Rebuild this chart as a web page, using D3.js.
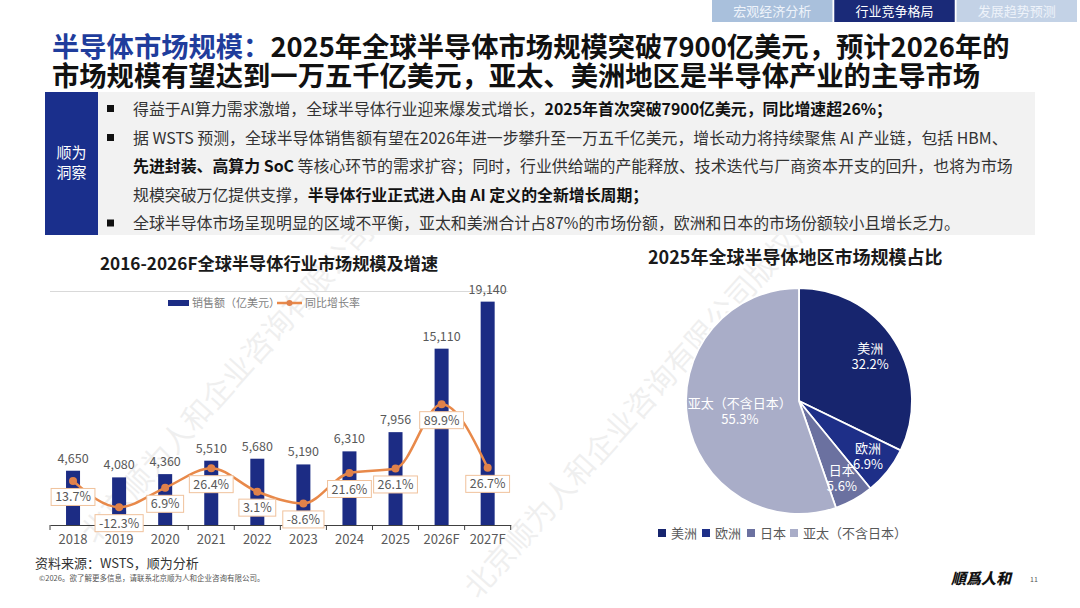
<!DOCTYPE html>
<html><head><meta charset="utf-8">
<script src="https://cdn.jsdelivr.net/npm/d3@7"></script>
<style>
body{margin:0;background:#fff;}
svg{display:block;font-family:"Noto Sans CJK SC","Noto Sans",sans-serif;}
</style></head>
<body><svg id="c" width="1080" height="608"></svg>
<script>
// ---- data ----
const years = ["2018","2019","2020","2021","2022","2023","2024","2025","2026F","2027F"];
const sales = [4650,4080,4360,5510,5680,5190,6310,7956,15110,19140];
const growth = [13.7,-12.3,6.9,26.4,3.1,-8.6,21.6,26.1,89.9,26.7];
const regions = ["美洲","欧洲","日本","亚太（不含日本）"];
const shares = [32.2,6.9,5.6,55.3];
const tabs = ["宏观经济分析","行业竞争格局","发展趋势预测"];

const svg = d3.select("#c");
const F = '"Noto Sans CJK SC","Noto Sans",sans-serif';

// watermarks
[[95,545],[478,600]].forEach(([x,y])=>{
  svg.append("text").attr("transform",`translate(${x},${y}) rotate(-48)`)
    .attr("font-size",30).attr("fill","#000").attr("opacity",0.06)
    .text("北京顺为人和企业咨询有限公司版权所有");
});

// tabs
const tabX = d3.scaleBand().domain(tabs).range([712,1077]).paddingInner(0.015);
const tabFill = ["#a9c0dc","#1a2a78","#c3d2e6"];
tabs.forEach((t,i)=>{
  svg.append("rect").attr("x",tabX(t)).attr("y",0).attr("width",tabX.bandwidth()).attr("height",22).attr("fill",tabFill[i]);
  svg.append("text").attr("x",tabX(t)+tabX.bandwidth()/2).attr("y",16).attr("text-anchor","middle")
    .attr("font-size",13).attr("fill",i===1?"#fff":"#eef3fa").text(t);
});

// title (one text element, two lines)
const t1 = svg.append("text").attr("x",52).attr("y",57).attr("font-size",27.3).attr("font-weight","bold").attr("fill","#111");
t1.append("tspan").attr("fill","#1f3d9c").text("半导体市场规模：");
t1.append("tspan").text("2025年全球半导体市场规模突破7900亿美元，预计2026年的");
t1.append("tspan").attr("x",52).attr("dy",29).text("市场规模有望达到一万五千亿美元，亚太、美洲地区是半导体产业的主导市场");

// insight box
svg.append("rect").attr("x",98).attr("y",92).attr("width",937).attr("height",143).attr("fill","#f2f2f2");
svg.append("rect").attr("x",45).attr("y",92).attr("width",53).attr("height",143).attr("fill","#1a2f8c");
svg.append("text").attr("x",71.5).attr("y",158).attr("text-anchor","middle").attr("font-size",15).attr("fill","#fff").text("顺为");
svg.append("text").attr("x",71.5).attr("y",178).attr("text-anchor","middle").attr("font-size",15).attr("fill","#fff").text("洞察");
const lines = [
  {b:true, parts:[["得益于AI算力需求激增，全球半导体行业迎来爆发式增长，",0],["2025年首次突破7900亿美元，同比增速超26%；",1]]},
  {b:true, parts:[["据 WSTS 预测，全球半导体销售额有望在2026年进一步攀升至一万五千亿美元，增长动力将持续聚焦 AI 产业链，包括 HBM、",0]]},
  {b:false,parts:[["先进封装、高算力 SoC",1],[" 等核心环节的需求扩容；同时，行业供给端的产能释放、技术迭代与厂商资本开支的回升，也将为市场",0]]},
  {b:false,parts:[["规模突破万亿提供支撑，",0],["半导体行业正式进入由 AI 定义的全新增长周期；",1]]},
  {b:true, parts:[["全球半导体市场呈现明显的区域不平衡，亚太和美洲合计占87%的市场份额，欧洲和日本的市场份额较小且增长乏力。",0]]}
];
const lineY = [109,138,166.5,195,223.5];
lines.forEach((l,i)=>{
  if(l.b) svg.append("rect").attr("x",107).attr("y",lineY[i]-4).attr("width",7).attr("height",7).attr("fill","#111");
  const t = svg.append("text").attr("x",133).attr("y",lineY[i]+5.8).attr("font-size",15.9).attr("fill","#333");
  l.parts.forEach(p=>t.append("tspan").attr("font-weight",p[1]?"bold":"normal").attr("fill",p[1]?"#111":"#333").text(p[0]));
});

// ---- bar + line chart ----
svg.append("text").attr("x",269).attr("y",270).attr("text-anchor","middle").attr("font-size",17.2).attr("font-weight","bold").attr("fill","#1a1a1a")
  .text("2016-2026F全球半导体行业市场规模及增速");
svg.append("line").attr("x1",50).attr("x2",508).attr("y1",291.5).attr("y2",291.5).attr("stroke","#d9d9d9");

const xb = d3.scaleBand().domain(years).range([50,510.7]);
const y = d3.scaleLinear().domain([0,20000]).range([525,291.6]);
const yr = d3.scaleLinear().domain([-30,100]).range([525,394]);

// legend
svg.append("rect").attr("x",168).attr("y",300).attr("width",21).attr("height",6).attr("fill","#1c2c84");
svg.append("text").attr("x",192).attr("y",307).attr("font-size",11).attr("fill","#7f7f7f").text("销售额（亿美元）");
svg.append("line").attr("x1",277).attr("x2",302).attr("y1",303).attr("y2",303).attr("stroke","#e8894a").attr("stroke-width",2.5);
svg.append("circle").attr("cx",289.5).attr("cy",303).attr("r",3).attr("fill","#e0814a");
svg.append("text").attr("x",305).attr("y",307).attr("font-size",11).attr("fill","#7f7f7f").text("同比增长率");

// bars
const bw = 14;
svg.append("g").selectAll("rect").data(years).join("rect")
  .attr("x",(d)=>xb(d)+xb.bandwidth()/2-bw/2).attr("width",bw)
  .attr("y",(d,i)=>y(sales[i])).attr("height",(d,i)=>y(0)-y(sales[i])).attr("fill","#1c2c84");
svg.append("g").selectAll("text").data(years).join("text")
  .attr("x",(d)=>xb(d)+xb.bandwidth()/2).attr("y",(d,i)=>y(sales[i])-8)
  .attr("text-anchor","middle").attr("font-size",12.5).attr("fill","#595959")
  .text((d,i)=>d3.format(",")(sales[i]));

// axis
const ax = svg.append("g").attr("transform","translate(0,525)")
  .call(d3.axisBottom(xb).tickSize(0).tickPadding(8));
ax.select(".domain").attr("stroke","#404040").attr("stroke-width",1.2);
ax.selectAll("text").attr("font-size",13).attr("fill","#595959").attr("font-family",F).attr("dy","0.85em");
ax.selectAll(".bnd").data(d3.range(years.length+1)).join("line").attr("class","bnd")
  .attr("x1",i=>50+i*xb.step()).attr("x2",i=>50+i*xb.step()).attr("y1",0).attr("y2",5).attr("stroke","#404040");

// growth line
const pts = years.map((d,i)=>[xb(d)+xb.bandwidth()/2, yr(growth[i])]);
svg.append("path").attr("d",d3.line().curve(d3.curveMonotoneX)(pts))
  .attr("fill","none").attr("stroke","#e8894a").attr("stroke-width",2.5);
svg.append("g").selectAll("circle").data(pts).join("circle")
  .attr("cx",d=>d[0]).attr("cy",d=>d[1]).attr("r",4).attr("fill","#e0814a");
const lg = svg.append("g");
years.forEach((d,i)=>{
  const cx = pts[i][0], cy = pts[i][1]+16;
  const g = lg.append("g");
  const r = g.append("rect");
  const t = g.append("text").attr("x",cx).attr("y",cy+4.5).attr("text-anchor","middle").attr("font-size",12.5).attr("fill","#595959")
    .text(growth[i].toFixed(1)+"%");
  const w = t.node().getComputedTextLength()+8;
  r.attr("x",cx-w/2).attr("y",cy-8.5).attr("width",w).attr("height",17).attr("fill","#fff").attr("stroke","#f0c29c").attr("stroke-width",1);
});

// ---- pie ----
svg.append("text").attr("x",648).attr("y",264).attr("font-size",18).attr("font-weight","bold").attr("fill","#1a1a1a")
  .text("2025年全球半导体地区市场规模占比");
const pieColors = ["#17256e","#1e2f88","#6b71a0","#a9adc8"];
const cx0 = 799, cy0 = 401, R = 113;
const arcs = d3.pie().sort(null).value(d=>d)(shares);
const arc = d3.arc().innerRadius(0).outerRadius(R);
const pg = svg.append("g").attr("transform",`translate(${cx0},${cy0})`);
pg.selectAll("path").data(arcs).join("path").attr("d",arc)
  .attr("fill",(d,i)=>pieColors[i]).attr("stroke","#fff").attr("stroke-width",1.8);
const lr = [84,88,88,60];
arcs.forEach((a,i)=>{
  const c = d3.arc().innerRadius(lr[i]).outerRadius(lr[i]).centroid(a);
  const t = pg.append("text").attr("x",c[0]).attr("y",c[1]-3).attr("text-anchor","middle").attr("font-size",13).attr("fill","#fff");
  t.append("tspan").text(regions[i]);
  t.append("tspan").attr("x",c[0]).attr("dy",16).text(shares[i].toFixed(1)+"%");
});
// pie legend
const legX = [662,706,751,794];
regions.forEach((r,i)=>{
  svg.append("rect").attr("x",legX[i]-4).attr("y",529).attr("width",8).attr("height",8).attr("fill",pieColors[i]);
  svg.append("text").attr("x",legX[i]+9).attr("y",538).attr("font-size",13).attr("fill","#595959").text(r);
});

// footer
svg.append("text").attr("x",35).attr("y",568).attr("font-size",13).attr("fill","#333").text("资料来源：WSTS，顺为分析");
svg.append("text").attr("x",39).attr("y",581).attr("font-size",7.5).attr("fill","#555").text("©2026。欲了解更多信息，请联系北京顺为人和企业咨询有限公司。");
svg.append("text").attr("x",951).attr("y",584).attr("font-size",15).attr("font-weight","900").attr("fill","#111")
  .attr("font-style","italic").text("順爲人和");
svg.append("text").attr("x",1030).attr("y",582).attr("font-size",7).attr("fill","#555").text("11");
</script></body></html>
